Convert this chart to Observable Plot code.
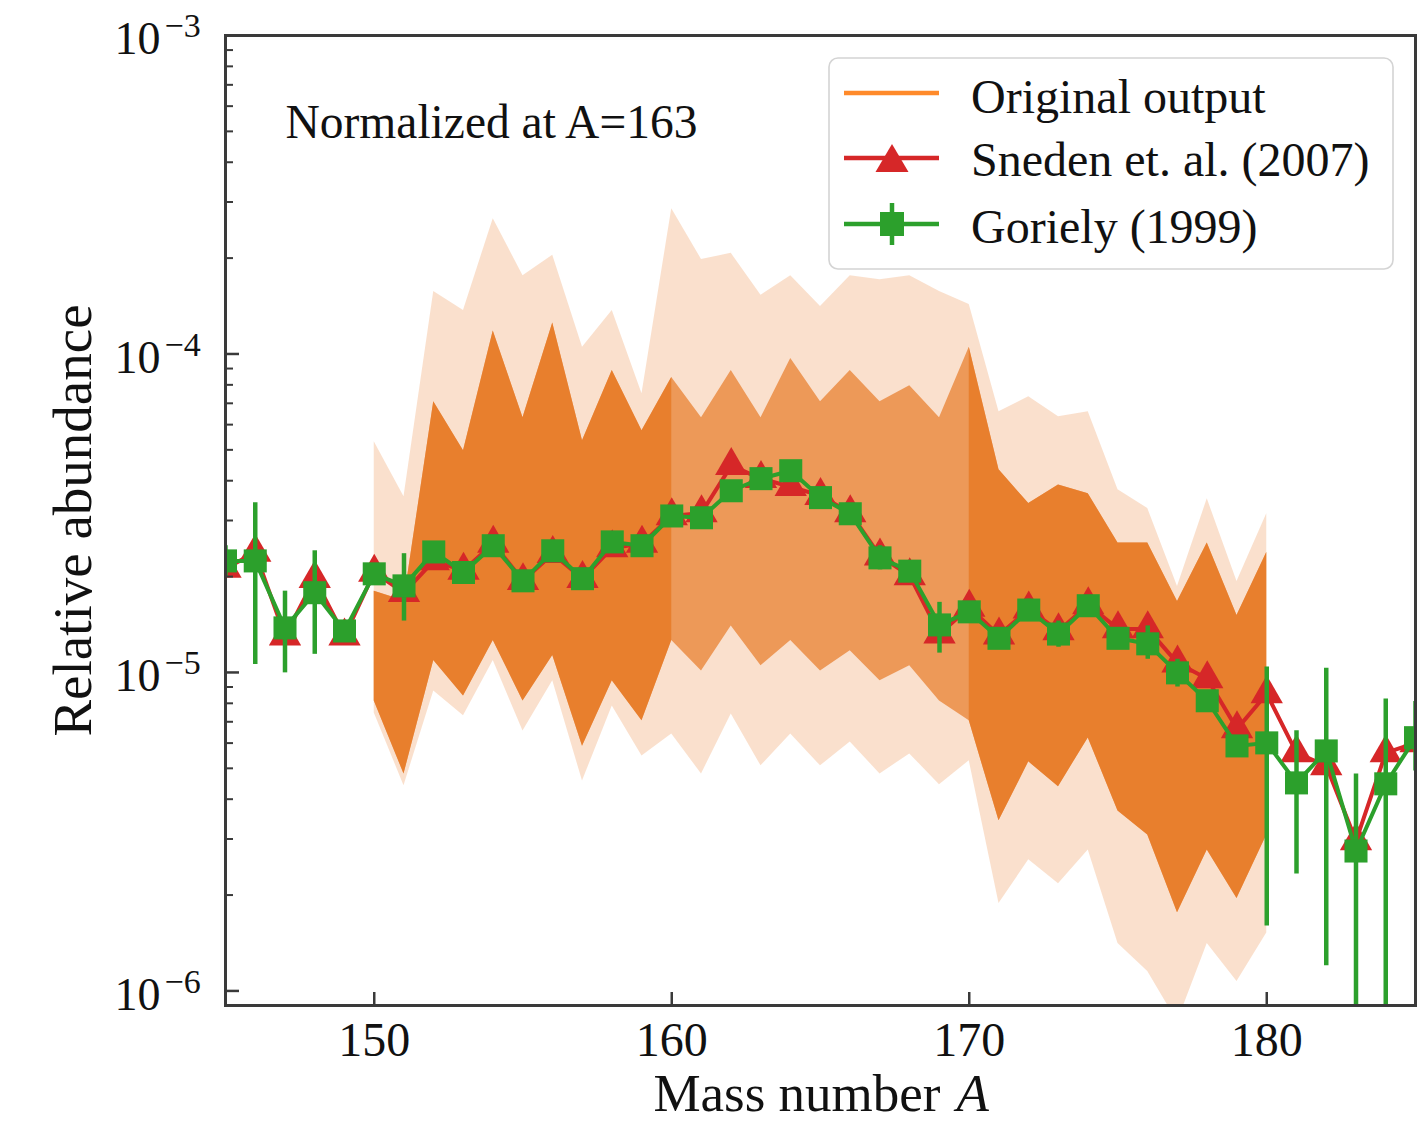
<!DOCTYPE html>
<html>
<head>
<meta charset="utf-8">
<script src="https://cdn.jsdelivr.net/npm/d3@7"></script>
<script src="https://cdn.jsdelivr.net/npm/@observablehq/plot@0.6"></script>
<style>
  html, body { margin: 0; padding: 0; background: #fff; }
  #wrap { position: relative; width: 1419px; height: 1126px; overflow: hidden; }
  #legend { position: absolute; left: 828px; top: 57px; }
  #legend text { font-family: "Liberation Serif", "DejaVu Serif", serif; font-size: 48px; fill: #111; }
</style>
</head>
<body>
<div id="wrap">
  <div id="chart"></div>
  <svg id="legend" width="566" height="213" viewBox="-1 -1 566 213">
    <rect x="0" y="0" width="564" height="211" rx="9" ry="9" fill="rgba(255,255,255,0.82)" stroke="#d4d4d4" stroke-width="1.6"></rect>
    <line x1="15" x2="110" y1="35" y2="35" stroke="#ff8a2a" stroke-width="4.5"></line>
    <text x="142" y="55">Original output</text>
    <line x1="15" x2="110" y1="100" y2="100" stroke="#d62728" stroke-width="4.5"></line>
    <polygon points="63,86 46.5,114 79.5,114" fill="#d62728"></polygon>
    <text x="142" y="118">Sneden et. al. (2007)</text>
    <line x1="15" x2="110" y1="166" y2="166" stroke="#2ca02c" stroke-width="4.5"></line>
    <line x1="63" x2="63" y1="145" y2="187" stroke="#2ca02c" stroke-width="4.5"></line>
    <rect x="51" y="154" width="24" height="24" fill="#2ca02c"></rect>
    <text x="142" y="185">Goriely (1999)</text>
  </svg>
</div>
<script>
// ---------- data ----------
const massNumbers = [145,146,147,148,149,150,151,152,153,154,155,156,157,158,159,160,161,162,163,164,165,166,167,168,169,170,171,172,173,174,175,176,177,178,179,180,181,182,183,184,185];

const sneden2007 = [2.12e-5,2.38e-5,1.30e-5,1.97e-5,1.30e-5,2.06e-5,1.78e-5,2.24e-5,2.09e-5,2.54e-5,
  1.94e-5,2.36e-5,1.97e-5,2.46e-5,2.54e-5,3.10e-5,3.17e-5,4.46e-5,4.06e-5,3.83e-5,
  3.59e-5,3.17e-5,2.32e-5,2.01e-5,1.32e-5,1.60e-5,1.31e-5,1.58e-5,1.35e-5,1.63e-5,
  1.37e-5,1.37e-5,1.07e-5,9.55e-6,6.65e-6,8.57e-6,5.59e-6,5.09e-6,2.96e-6,5.59e-6,6.01e-6];

const goriely1999 = [2.24e-5,2.24e-5,1.38e-5,1.78e-5,1.35e-5,2.04e-5,1.87e-5,2.39e-5,2.06e-5,2.50e-5,
  1.94e-5,2.41e-5,1.97e-5,2.57e-5,2.50e-5,3.10e-5,3.06e-5,3.72e-5,4.06e-5,4.30e-5,
  3.54e-5,3.15e-5,2.29e-5,2.08e-5,1.41e-5,1.55e-5,1.28e-5,1.57e-5,1.32e-5,1.62e-5,
  1.28e-5,1.23e-5,9.97e-6,8.15e-6,5.88e-6,6.01e-6,4.50e-6,5.67e-6,2.75e-6,4.47e-6,6.24e-6];

const gorielyLow = [2.0e-5,1.06e-5,9.97e-6,1.14e-5,1.25e-5,1.95e-5,1.45e-5,2.3e-5,1.95e-5,2.4e-5,
  1.85e-5,2.3e-5,1.9e-5,2.45e-5,2.4e-5,2.95e-5,2.9e-5,3.55e-5,3.85e-5,4.1e-5,
  3.35e-5,3.0e-5,2.1e-5,1.95e-5,1.15e-5,1.45e-5,1.2e-5,1.45e-5,1.2e-5,1.55e-5,
  1.2e-5,1.1e-5,9.0e-6,7.6e-6,5.5e-6,1.6e-6,2.33e-6,1.2e-6,7.0e-7,6.7e-7,4.9e-6];

const gorielyHigh = [2.5e-5,3.41e-5,1.80e-5,2.41e-5,1.45e-5,2.13e-5,2.36e-5,2.5e-5,2.17e-5,2.6e-5,
  2.03e-5,2.5e-5,2.05e-5,2.7e-5,2.6e-5,3.25e-5,3.2e-5,3.9e-5,4.25e-5,4.5e-5,
  3.7e-5,3.3e-5,2.5e-5,2.2e-5,1.66e-5,1.65e-5,1.36e-5,1.7e-5,1.45e-5,1.7e-5,
  1.36e-5,1.4e-5,1.1e-5,8.7e-6,6.3e-6,1.04e-5,6.56e-6,1.03e-5,4.8e-6,8.26e-6,8.1e-6];

// envelope of the "Original output" ensemble
const ensembleA = [150,151,152,153,154,155,156,157,158,159,160,161,162,163,164,165,166,167,168,169,170,171,172,173,174,175,176,177,178,179,180];
const ensembleFaintHigh = [5.30e-5,3.56e-5,1.57e-4,1.37e-4,2.66e-4,1.76e-4,2.04e-4,1.05e-4,1.37e-4,7.5e-5,
  2.86e-4,1.98e-4,2.07e-4,1.53e-4,1.76e-4,1.41e-4,1.76e-4,1.71e-4,1.76e-4,1.57e-4,
  1.43e-4,6.59e-5,7.34e-5,6.35e-5,6.59e-5,3.75e-5,3.27e-5,1.86e-5,3.51e-5,1.93e-5,3.15e-5];
const ensembleCoreHigh = [1.80e-5,1.68e-5,7.08e-5,4.97e-5,1.18e-4,6.31e-5,1.25e-4,5.34e-5,8.87e-5,5.74e-5,
  8.43e-5,6.31e-5,8.87e-5,6.31e-5,9.67e-5,7.08e-5,8.87e-5,7.08e-5,7.95e-5,6.31e-5,
  1.05e-4,4.33e-5,3.39e-5,3.88e-5,3.64e-5,2.55e-5,2.55e-5,1.67e-5,2.55e-5,1.51e-5,2.38e-5];
const ensembleCoreLow = [8.14e-6,4.80e-6,1.09e-5,8.44e-6,1.26e-5,8.14e-6,1.13e-5,5.87e-6,9.41e-6,7.05e-6,
  1.26e-5,1.01e-5,1.40e-5,1.05e-5,1.26e-5,1.01e-5,1.17e-5,9.41e-6,1.05e-5,8.14e-6,
  7.05e-6,3.42e-6,5.24e-6,4.38e-6,6.23e-6,3.67e-6,3.09e-6,1.76e-6,2.77e-6,1.95e-6,3.09e-6];
const ensembleFaintLow = [7.46e-6,4.41e-6,8.75e-6,7.31e-6,1.09e-5,6.55e-6,9.41e-6,4.56e-6,7.85e-6,5.47e-6,
  6.41e-6,4.80e-6,7.41e-6,5.09e-6,6.41e-6,5.09e-6,6.05e-6,4.80e-6,5.55e-6,4.44e-6,
  5.28e-6,1.88e-6,2.58e-6,2.17e-6,2.77e-6,1.41e-6,1.15e-6,8.0e-7,1.41e-6,1.07e-6,1.52e-6];

const xTicks = [150,160,170,180];
const yMajorTicks = [1e-6,1e-5,1e-4,1e-3];
const yExponents = ["−6","−5","−4","−3"];
const yMinorTicks = [2e-6,3e-6,4e-6,5e-6,6e-6,7e-6,8e-6,9e-6,
  2e-5,3e-5,4e-5,5e-5,6e-5,7e-5,8e-5,9e-5,
  2e-4,3e-4,4e-4,5e-4,6e-4,7e-4,8e-4,9e-4];

// ---------- tables ----------
const obs = massNumbers.map((A,i) => ({A, sn: sneden2007[i], go: goriely1999[i], lo: gorielyLow[i], hi: gorielyHigh[i]}));
const ens = ensembleA.map((A,i) => ({A, fHi: ensembleFaintHigh[i], cHi: ensembleCoreHigh[i], cLo: ensembleCoreLow[i], fLo: ensembleFaintLow[i]}));
const majors = yMajorTicks.map((v,i) => ({v, e: yExponents[i]}));

const W = 1419, H = 1126, ML = 225, MR = 4, MT = 35, MB = 121;
const PW = W - ML - MR, PH = H - MT - MB;
const FONT = "Liberation Serif, DejaVu Serif, serif";
const ORANGE = "#e6731b", RED = "#d62728", GREEN = "#2ca02c", AX = "#3a3a3a";

const chart = Plot.plot({
  width: W, height: H,
  marginLeft: ML, marginRight: MR, marginTop: MT, marginBottom: MB,
  x: {domain: [145, 185], axis: null},
  y: {type: "log", domain: [9e-7, 1e-3], axis: null},
  style: {background: "transparent", fontFamily: FONT},
  marks: [
    Plot.areaY(ens, {x: "A", y1: "fLo", y2: "fHi", fill: ORANGE, fillOpacity: 0.22, clip: true}),
    Plot.areaY(ens, {x: "A", y1: "cLo", y2: "cHi", fill: ORANGE, fillOpacity: 0.66, clip: true}),
    Plot.areaY(ens, {filter: d => d.A <= 160, x: "A", y1: "cLo", y2: "cHi", fill: ORANGE, fillOpacity: 0.7, clip: true}),
    Plot.areaY(ens, {filter: d => d.A >= 170, x: "A", y1: "cLo", y2: "cHi", fill: ORANGE, fillOpacity: 0.7, clip: true}),
    Plot.line(obs, {x: "A", y: "sn", stroke: RED, strokeWidth: 4, clip: true}),
    Plot.dot(obs, {x: "A", y: "sn", symbol: "triangle", r: 12, fill: RED, clip: true}),
    Plot.ruleX(obs, {x: "A", y1: "lo", y2: "hi", stroke: GREEN, strokeWidth: 4.5, clip: true}),
    Plot.line(obs, {x: "A", y: "go", stroke: GREEN, strokeWidth: 4, clip: true}),
    Plot.dot(obs, {x: "A", y: "go", symbol: "square", r: 13, fill: GREEN, clip: true}),
    // ticks (pointing inward)
    Plot.tickX(xTicks, {x: d => d, insetTop: PH - 13, stroke: AX, strokeWidth: 2.5}),
    Plot.tickY(yMajorTicks, {y: d => d, insetRight: PW - 14, stroke: AX, strokeWidth: 2.5}),
    Plot.tickY(yMinorTicks, {y: d => d, insetRight: PW - 8, stroke: AX, strokeWidth: 2}),
    Plot.frame({stroke: AX, strokeWidth: 3}),
    // tick labels
    Plot.text(xTicks, {x: d => d, frameAnchor: "bottom", dy: 35, lineAnchor: "middle", text: d => String(d), fontSize: 48, fill: "#111", fontFamily: FONT}),
    Plot.text(majors, {y: "v", frameAnchor: "left", dx: -65, dy: 4, textAnchor: "end", lineAnchor: "middle", text: () => "10", fontSize: 46, fill: "#111", fontFamily: FONT}),
    Plot.text(majors, {y: "v", frameAnchor: "left", dx: -61, dy: -9, textAnchor: "start", lineAnchor: "middle", text: "e", fontSize: 34, fill: "#111", fontFamily: FONT}),
    // axis labels
    Plot.text(["Mass number"], {frameAnchor: "bottom-left", dx: 715, dy: 89, textAnchor: "end", lineAnchor: "middle", text: d => d, fontSize: 53, fill: "#111", fontFamily: FONT}),
    Plot.text(["A"], {frameAnchor: "bottom-left", dx: 731, dy: 89, textAnchor: "start", lineAnchor: "middle", text: d => d, fontSize: 53, fontStyle: "italic", fill: "#111", fontFamily: FONT}),
    Plot.text(["Relative abundance"], {frameAnchor: "left", dx: -152, rotate: -90, textAnchor: "middle", lineAnchor: "middle", text: d => d, fontSize: 55, fill: "#111", fontFamily: FONT}),
    // annotation
    Plot.text(["Normalized at A=163"], {frameAnchor: "top-left", dx: 60, dy: 87, textAnchor: "start", lineAnchor: "middle", text: d => d, fontSize: 47.5, fill: "#111", fontFamily: FONT})
  ]
});
document.getElementById("chart").appendChild(chart);
</script>
</body>
</html>
